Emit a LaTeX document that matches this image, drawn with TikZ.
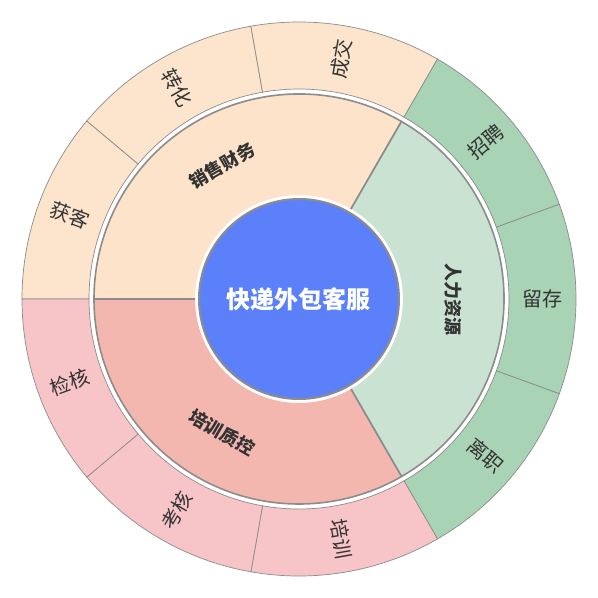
\documentclass[tikz,border=0pt]{standalone}
\usepackage{fontspec}
\newfontfamily\cjk{Noto Sans CJK SC}
\definecolor{cblue}{RGB}{91,128,250}
\definecolor{mbeige}{RGB}{253,227,202}
\definecolor{obeige}{RGB}{252,228,205}
\definecolor{mgreen}{RGB}{201,226,210}
\definecolor{ogreen}{RGB}{168,211,180}
\definecolor{mpink}{RGB}{244,183,176}
\definecolor{opink}{RGB}{247,196,200}
\definecolor{txt}{RGB}{51,51,51}
\definecolor{edge}{RGB}{140,140,140}
\tikzset{
  midline/.style={draw=edge, line width=1.6pt, line join=round},
  outline/.style={draw=edge, line width=0.7pt},
  olabel/.style={font=\cjk\fontsize{20pt}{20pt}\selectfont, text=txt, inner sep=0pt},
  mlabel/.style={font=\cjk\bfseries\fontsize{18pt}{18pt}\selectfont, text=txt, inner sep=0pt},
  clabel/.style={font=\cjk\bfseries\fontsize{24pt}{24pt}\selectfont, text=white, inner sep=0pt}
}
\newcommand{\msect}[3]{%
  \fill[#3] (#1:104pt) -- (#1:205pt) arc[start angle=#1,end angle=#2,radius=205pt] -- (#2:104pt) arc[start angle=#2,end angle=#1,radius=104pt] -- cycle;
  \draw[midline] (#1:104pt) -- (#1:205pt) arc[start angle=#1,end angle=#2,radius=205pt] -- (#2:104pt);
}
\newcommand{\osect}[3]{%
  \filldraw[fill=#3, outline] (#1:210pt) -- (#1:277pt) arc[start angle=#1,end angle=#2,radius=277pt] -- (#2:210pt) arc[start angle=#2,end angle=#1,radius=210pt] -- cycle;
}
\begin{document}
\begin{tikzpicture}
\useasboundingbox (-299pt,-299pt) rectangle (299pt,299pt);
\fill[white] (-299pt,-299pt) rectangle (299pt,299pt);
% outer ring
\osect{140}{180}{obeige}
\osect{100}{140}{obeige}
\osect{60}{100}{obeige}
\osect{20}{60}{ogreen}
\osect{-20}{20}{ogreen}
\osect{-60}{-20}{ogreen}
\osect{-100}{-60}{opink}
\osect{-140}{-100}{opink}
\osect{-180}{-140}{opink}
% middle ring
\msect{60}{180}{mbeige}
\msect{-60}{60}{mgreen}
\msect{180}{300}{mpink}
% centre
\draw[fill=cblue, draw=edge, line width=2pt] (0,0) circle[radius=100pt];
\node[clabel] (c) at (0,0) {快递外包客服};
% middle labels
\node[mlabel, rotate=30] (m1) at (120:154pt) {销售财务};
\node[mlabel, rotate=-90] (m2) at (0:154pt) {人力资源};
\node[mlabel, rotate=-30] (m3) at (240:154pt) {培训质控};
% outer labels
\node[olabel, rotate=-20] (o1) at (160:244pt) {获客};
\node[olabel, rotate=-60] (o2) at (120:244pt) {转化};
\node[olabel, rotate=80] (o3) at (80:244pt) {成交};
\node[olabel, rotate=40] (o4) at (40:244pt) {招聘};
\node[olabel, rotate=0] (o5) at (0:244pt) {留存};
\node[olabel, rotate=-40] (o6) at (-40:244pt) {离职};
\node[olabel, rotate=-80] (o7) at (-80:244pt) {培训};
\node[olabel, rotate=60] (o8) at (-120:244pt) {考核};
\node[olabel, rotate=20] (o9) at (-160:244pt) {检核};
\end{tikzpicture}
\end{document}
